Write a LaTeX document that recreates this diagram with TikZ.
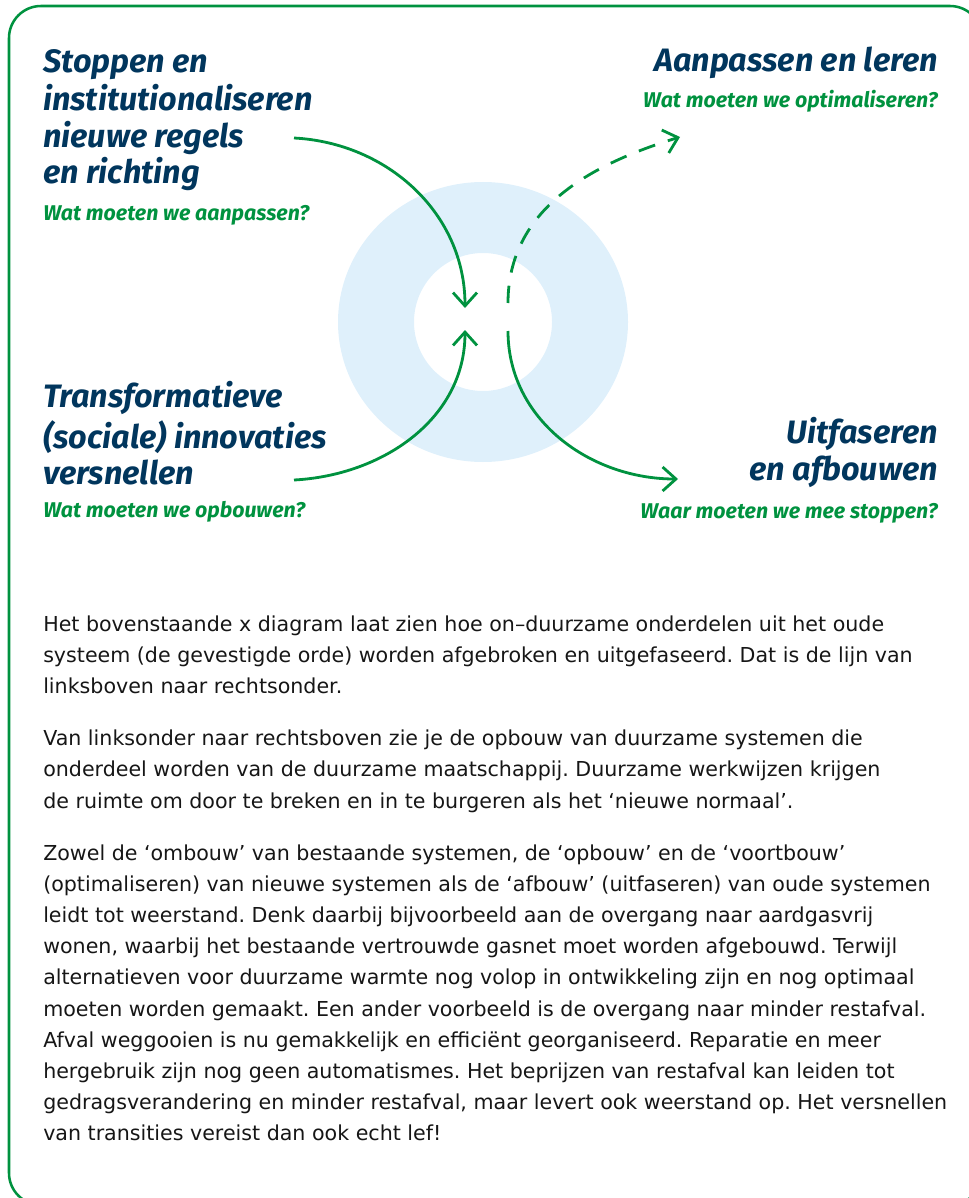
\documentclass[tikz,border=0pt]{standalone}
\usepackage{fontspec}
\usetikzlibrary{arrows.meta}
\newfontfamily\headfont{Fira Sans}
\newfontfamily\bodyfont{DejaVu Sans}
\definecolor{titleblue}{RGB}{1,54,93}
\definecolor{framegreen}{RGB}{0,146,63}
\definecolor{ringblue}{RGB}{223,240,251}
\definecolor{bodygray}{RGB}{22,22,22}
\frenchspacing

\begin{document}
\begin{tikzpicture}[x=0.75pt, y=-0.75pt,
  title/.style={inner sep=0pt, text=titleblue, font=\headfont\bfseries\itshape\fontsize{24.3}{27.4}\selectfont},
  question/.style={inner sep=0pt, text=framegreen, font=\headfont\bfseries\itshape\fontsize{16}{19}\selectfont},
  flow/.style={draw=framegreen, line width=2.1pt, -{Straight Barb[length=10pt, width=18pt]}}]
  \useasboundingbox (0,0) rectangle (968,1198);
  \draw[framegreen, line width=1.9pt, rounded corners=24pt] (9,6) rectangle (982,1205);
  \fill[ringblue, even odd rule] (483,322) ellipse [x radius=145, y radius=140] (483,322) circle [radius=69];

  \node[title, align=left, anchor=north west] (stop) at (43,46.4) {\strut Stoppen en\\institutionaliseren\\nieuwe regels\\en richting};
  \node[question, anchor=base west] (stopq) at (43,220) {Wat moeten we aanpassen?};
  \node[title, anchor=base east] (adapt) at (938,72) {Aanpassen en leren};
  \node[question, anchor=base east] (adaptq) at (938,108) {Wat moeten we optimaliseren?};
  \node[title, align=left, anchor=north west] (build) at (43,381.4) {\strut Transformatieve\\(sociale) innovaties\\versnellen};
  \node[question, anchor=base west] (buildq) at (43,517) {Wat moeten we opbouwen?};
  \node[title, align=right, anchor=north east] (phase) at (938,417.4) {\strut Uitfaseren\\en afbouwen};
  \node[question, anchor=base east] (phaseq) at (938,518) {Waar moeten we mee stoppen?};

  \coordinate (stopStart) at (294,138);
  \coordinate (centerTop) at (465,308);
  \coordinate (buildStart) at (294,480);
  \coordinate (centerBottom) at (465,330);
  \coordinate (adaptStart) at (508,303);
  \coordinate (adaptEnd) at (680,137);
  \coordinate (phaseStart) at (508,331);
  \coordinate (phaseEnd) at (678,479);
  \draw[flow] (stopStart) to[out=-3, in=90] (centerTop);
  \draw[flow] (buildStart) to[out=3, in=-90] (centerBottom);
  \draw[flow, dash pattern=on 13pt off 10pt] (adaptStart) to[out=90, in=-163] (adaptEnd);
  \draw[flow] (phaseStart) to[out=-90, in=180] (phaseEnd);

  \node[inner sep=0pt, align=left, anchor=north west, text=bodygray, font=\bodyfont\fontsize{15.45}{23.4}\selectfont] (body) at (43,609.2) {\strut Het bovenstaande x diagram laat zien hoe on–duurzame onderdelen uit het oude\\
systeem (de gevestigde orde) worden afgebroken en uitgefaseerd. Dat is de lijn van\\
linksboven naar rechtsonder.\\[15.6pt]
Van linksonder naar rechtsboven zie je de opbouw van duurzame systemen die\\
onderdeel worden van de duurzame maatschappij. Duurzame werkwijzen krijgen\\
de ruimte om door te breken en in te burgeren als het ‘nieuwe normaal’.\\[15.6pt]
Zowel de ‘ombouw’ van bestaande systemen, de ‘opbouw’ en de ‘voortbouw’\\
(optimaliseren) van nieuwe systemen als de ‘afbouw’ (uitfaseren) van oude systemen\\
leidt tot weerstand. Denk daarbij bijvoorbeeld aan de overgang naar aardgasvrij\\
wonen, waarbij het bestaande vertrouwde gasnet moet worden afgebouwd. Terwijl\\
alternatieven voor duurzame warmte nog volop in ontwikkeling zijn en nog optimaal\\
moeten worden gemaakt. Een ander voorbeeld is de overgang naar minder restafval.\\
Afval weggooien is nu gemakkelijk en efficiënt georganiseerd. Reparatie en meer\\
hergebruik zijn nog geen automatismes. Het beprijzen van restafval kan leiden tot\\
gedragsverandering en minder restafval, maar levert ook weerstand op. Het versnellen\\
van transities vereist dan ook echt lef!};
\end{tikzpicture}
\end{document}
